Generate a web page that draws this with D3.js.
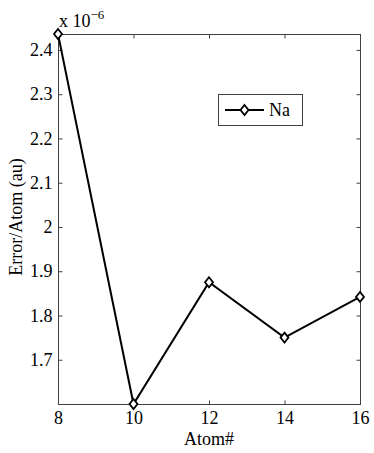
<!DOCTYPE html>
<html>
<head>
<meta charset="utf-8">
<script src="https://cdn.jsdelivr.net/npm/d3@7"></script>
<style>
  body { margin: 0; background: #fff; }
</style>
</head>
<body>
<svg width="374" height="453"></svg>
<script>
// data
var atoms = [8, 10, 12, 14, 16],
    errors = [2.436, 1.600, 1.875, 1.750, 1.842],   // x 10^-6
    xTicks = [8, 10, 12, 14, 16],
    yTicks = [1.7, 1.8, 1.9, 2.0, 2.1, 2.2, 2.3, 2.4],
    seriesName = "Na";

var svg = d3.select("svg"),
    margin = {top: 34, right: 14, bottom: 49, left: 58},
    width = 374 - margin.left - margin.right,
    height = 453 - margin.top - margin.bottom,
    axisColor = "#404040",
    tickLen = 4;

var x = d3.scaleLinear().domain([8, 16]).range([0, width]);
var y = d3.scaleLinear().domain([1.6, 2.436]).range([height, 0]);

var g = svg.append("g").attr("transform", "translate(" + margin.left + "," + margin.top + ")");

// box
g.append("rect")
    .attr("x", 0.5).attr("y", 0.5)
    .attr("width", width).attr("height", height)
    .attr("fill", "none").attr("stroke", axisColor);

// inward ticks, all four sides
function tickStyle(sel) {
  sel.select(".domain").remove();
  sel.selectAll(".tick line").attr("stroke", axisColor);
  sel.selectAll(".tick text").attr("fill", "#000");
}

g.append("g")
    .attr("transform", "translate(0," + (height + 0.5) + ")")
    .call(d3.axisBottom(x).tickValues(xTicks).tickFormat(d3.format("d"))
      .tickSizeInner(-tickLen).tickSizeOuter(0).tickPadding(7))
    .call(tickStyle);

g.append("g")
    .attr("transform", "translate(0,0.5)")
    .call(d3.axisTop(x).tickValues(xTicks).tickFormat("")
      .tickSizeInner(-tickLen).tickSizeOuter(0))
    .call(tickStyle);

g.append("g")
    .attr("transform", "translate(0.5,0)")
    .call(d3.axisLeft(y).tickValues(yTicks).tickFormat(function(d) { return d === 2 ? "2" : d3.format(".1f")(d); })
      .tickSizeInner(-tickLen).tickSizeOuter(0).tickPadding(6))
    .call(tickStyle);

g.append("g")
    .attr("transform", "translate(" + (width + 0.5) + ",0)")
    .call(d3.axisRight(y).tickValues(yTicks).tickFormat("")
      .tickSizeInner(-tickLen).tickSizeOuter(0))
    .call(tickStyle);

// exponent label
var expo = g.append("text")
    .attr("x", 1).attr("y", -7);
expo.append("tspan").text("x 10");
expo.append("tspan").attr("dy", -8).attr("class", "sup").text("\u22126");

// axis labels
g.append("text")
    .attr("x", width / 2).attr("y", height + 41)
    .attr("text-anchor", "middle")
    .text("Atom#");

svg.append("text")
    .attr("transform", "translate(22," + (margin.top + height / 2 - 2) + ") rotate(-90)")
    .attr("text-anchor", "middle")
    .text("Error/Atom (au)");

// series
var line = d3.line()
    .x(function(d, i) { return x(atoms[i]); })
    .y(function(d) { return y(d); });

g.append("path")
    .datum(errors)
    .attr("d", line)
    .attr("fill", "none")
    .attr("stroke", "#000")
    .attr("stroke-width", 2);

var diamond = "M0,-5L4,0L0,5L-4,0Z";

g.selectAll(".mk")
    .data(errors)
    .enter().append("path")
    .attr("class", "mk")
    .attr("transform", function(d, i) { return "translate(" + x(atoms[i]) + "," + y(d) + ")"; })
    .attr("d", diamond)
    .attr("fill", "#fff")
    .attr("stroke", "#000")
    .attr("stroke-width", 1.8);

// legend
var lg = svg.append("g").attr("transform", "translate(218,94)");
lg.append("rect")
    .attr("x", 0.5).attr("y", 0.5)
    .attr("width", 84).attr("height", 31)
    .attr("fill", "#fff").attr("stroke", axisColor);
lg.append("line")
    .attr("x1", 7).attr("x2", 46).attr("y1", 16).attr("y2", 16)
    .attr("stroke", "#000").attr("stroke-width", 2);
lg.append("path")
    .attr("transform", "translate(26.5,16)")
    .attr("d", diamond)
    .attr("fill", "#fff").attr("stroke", "#000").attr("stroke-width", 1.8);
lg.append("text")
    .attr("x", 51).attr("y", 22)
    .text(seriesName);

// serif everywhere
svg.selectAll("text")
    .style("font-family", "'Liberation Serif', serif")
    .style("font-size", "18px");
svg.selectAll("tspan.sup").style("font-size", "13px");
</script>
</body>
</html>
